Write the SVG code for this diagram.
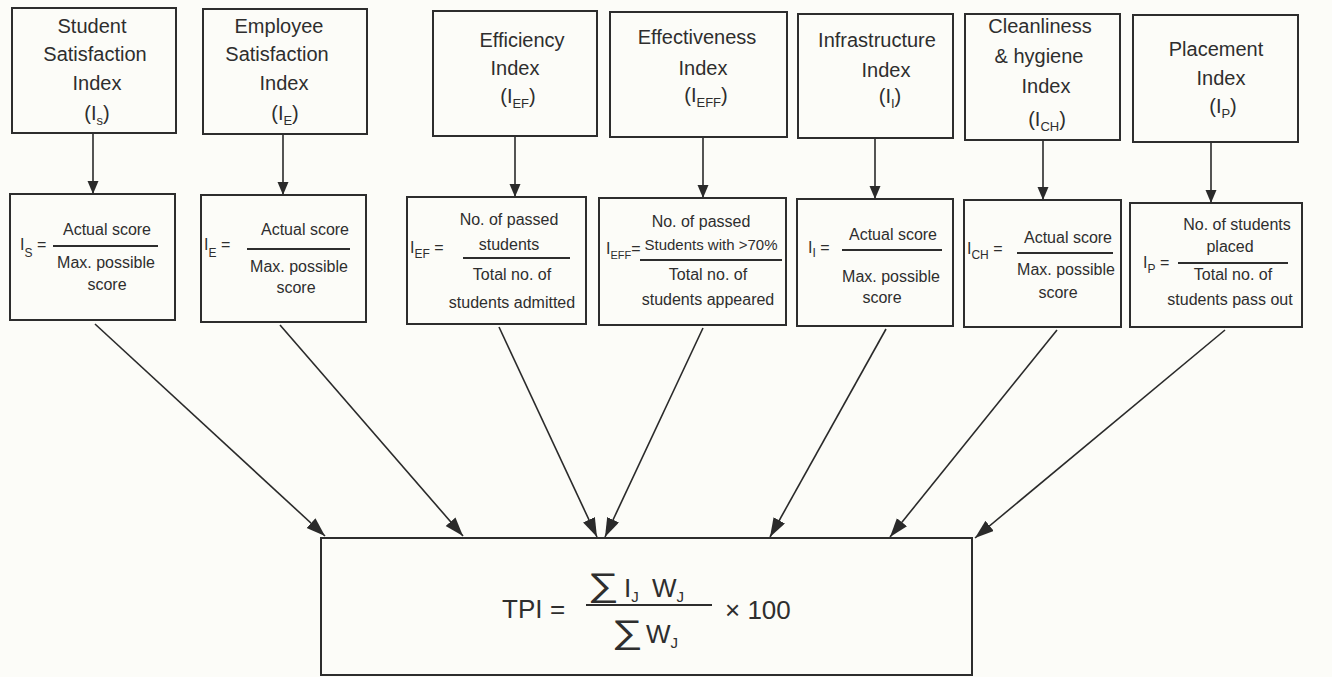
<svg xmlns="http://www.w3.org/2000/svg" width="1332" height="677" viewBox="0 0 1332 677">
<style>
.box{fill:none;stroke:#2d2d2d;stroke-width:2}
.t{font-family:"Liberation Sans",Arial,sans-serif;font-size:20px;fill:#2e2e2e;text-anchor:middle}
.f{font-family:"Liberation Sans",Arial,sans-serif;font-size:16px;fill:#2e2e2e;text-anchor:middle}
.fl{font-family:"Liberation Sans",Arial,sans-serif;font-size:16px;fill:#2e2e2e}
.s13{font-size:13px}
.s12{font-size:12px}
.s11{font-size:11px}
.s15{font-size:15px}
.bar{stroke:#2d2d2d;stroke-width:2}
.con{stroke:#2a2a2a;stroke-width:1.6;fill:none}
.v{marker-end:url(#ah)}
.d{marker-end:url(#ahd)}
.big{font-family:"Liberation Sans",Arial,sans-serif;font-size:26px;fill:#2e2e2e}
.sig{font-family:"Liberation Sans","DejaVu Sans",sans-serif;font-size:30px;fill:#2e2e2e}
</style>
<defs>
<marker id="ah" markerUnits="userSpaceOnUse" markerWidth="14" markerHeight="12" refX="13" refY="5.5" orient="auto">
<path d="M0,0 L13,5.5 L0,11 z" fill="#2a2a2a"/>
</marker>
<marker id="ahd" markerUnits="userSpaceOnUse" markerWidth="20" markerHeight="14" refX="19" refY="6.5" orient="auto">
<path d="M0,0 L19,6.5 L0,13 z" fill="#2a2a2a"/>
</marker>
</defs>
<rect x="0" y="0" width="1332" height="677" fill="#fcfcf8"/>

<g id="connectors">
<line class="con v" x1="93" y1="133" x2="93" y2="194"/>
<line class="con v" x1="283" y1="134" x2="283" y2="195"/>
<line class="con v" x1="515" y1="136" x2="515" y2="197"/>
<line class="con v" x1="703" y1="137" x2="703" y2="198"/>
<line class="con v" x1="875" y1="138" x2="875" y2="199"/>
<line class="con v" x1="1043" y1="140" x2="1043" y2="200"/>
<line class="con v" x1="1211" y1="142" x2="1211" y2="203"/>
<line class="con d" x1="95" y1="324" x2="325" y2="536"/>
<line class="con d" x1="280" y1="325" x2="463" y2="536"/>
<line class="con d" x1="499" y1="327" x2="597" y2="537"/>
<line class="con d" x1="703" y1="328" x2="605" y2="537"/>
<line class="con d" x1="886" y1="329" x2="770" y2="537"/>
<line class="con d" x1="1057" y1="330" x2="890" y2="537"/>
<line class="con d" x1="1225" y1="330" x2="975" y2="538"/>
</g>

<g id="top-student">
<rect class="box" x="12" y="8" width="164" height="125"/>
<text class="t" x="92" y="33">Student</text>
<text class="t" x="95" y="61">Satisfaction</text>
<text class="t" x="97" y="90">Index</text>
<text class="t" x="97" y="120">(I<tspan class="s13" dy="5">s</tspan><tspan dy="-5">)</tspan></text>
</g>
<g id="top-employee">
<rect class="box" x="203" y="9" width="164" height="125"/>
<text class="t" x="279" y="33">Employee</text>
<text class="t" x="277" y="61">Satisfaction</text>
<text class="t" x="284" y="90">Index</text>
<text class="t" x="285" y="120">(I<tspan class="s13" dy="5">E</tspan><tspan dy="-5">)</tspan></text>
</g>
<g id="top-efficiency">
<rect class="box" x="433" y="11" width="164" height="125"/>
<text class="t" x="522" y="47">Efficiency</text>
<text class="t" x="515" y="75">Index</text>
<text class="t" x="518" y="103">(I<tspan class="s13" dy="5">EF</tspan><tspan dy="-5">)</tspan></text>
</g>
<g id="top-effectiveness">
<rect class="box" x="610" y="12" width="177" height="125"/>
<text class="t" x="697" y="44">Effectiveness</text>
<text class="t" x="703" y="75">Index</text>
<text class="t" x="706" y="102">(I<tspan class="s13" dy="5">EFF</tspan><tspan dy="-5">)</tspan></text>
</g>
<g id="top-infrastructure">
<rect class="box" x="798" y="14" width="155" height="124"/>
<text class="t" x="877" y="47">Infrastructure</text>
<text class="t" x="886" y="77">Index</text>
<text class="t" x="890" y="103">(I<tspan class="s13" dy="5">I</tspan><tspan dy="-5">)</tspan></text>
</g>
<g id="top-cleanliness">
<rect class="box" x="965" y="14" width="155" height="126"/>
<text class="t" x="1040" y="33">Cleanliness</text>
<text class="t" x="1039" y="63">&amp; hygiene</text>
<text class="t" x="1046" y="93">Index</text>
<text class="t" x="1047" y="126">(I<tspan class="s13" dy="5">CH</tspan><tspan dy="-5">)</tspan></text>
</g>
<g id="top-placement">
<rect class="box" x="1133" y="15" width="165" height="127"/>
<text class="t" x="1216" y="56">Placement</text>
<text class="t" x="1221" y="85">Index</text>
<text class="t" x="1223" y="113">(I<tspan class="s13" dy="5">P</tspan><tspan dy="-5">)</tspan></text>
</g>

<g id="formula-student">
<rect class="box" x="10" y="194" width="165" height="126"/>
<text class="fl" x="20" y="250">I<tspan class="s12" dy="7">S</tspan><tspan dy="-7"> =</tspan></text>
<line class="bar" x1="53" y1="246" x2="158" y2="246"/>
<text class="f" x="107" y="235">Actual score</text>
<text class="f" x="106" y="268">Max. possible</text>
<text class="f" x="107" y="290">score</text>
</g>
<g id="formula-employee">
<rect class="box" x="201" y="195" width="165" height="127"/>
<text class="fl" x="204" y="250">I<tspan class="s12" dy="7">E</tspan><tspan dy="-7"> =</tspan></text>
<line class="bar" x1="247" y1="249" x2="350" y2="249"/>
<text class="f" x="305" y="235">Actual score</text>
<text class="f" x="299" y="272">Max. possible</text>
<text class="f" x="296" y="293">score</text>
</g>
<g id="formula-efficiency">
<rect class="box" x="407" y="197" width="179" height="127"/>
<text class="fl" x="410" y="253">I<tspan class="s12" dy="5">EF</tspan><tspan dy="-5"> =</tspan></text>
<line class="bar" x1="463" y1="258" x2="570" y2="258"/>
<text class="f" x="509" y="225">No. of passed</text>
<text class="f" x="509" y="250">students</text>
<text class="f" x="512" y="280">Total no. of</text>
<text class="f" x="512" y="308">students admitted</text>
</g>
<g id="formula-effectiveness">
<rect class="box" x="599" y="198" width="187" height="127"/>
<text class="fl" x="606" y="254">I<tspan class="s11" dy="5">EFF</tspan><tspan dy="-5">=</tspan></text>
<line class="bar" x1="640" y1="260" x2="782" y2="260"/>
<text class="f" x="701" y="227">No. of passed</text>
<text class="f s15" x="711" y="250">Students with &gt;70%</text>
<text class="f" x="708" y="280">Total no. of</text>
<text class="f" x="708" y="305">students appeared</text>
</g>
<g id="formula-infrastructure">
<rect class="box" x="797" y="199" width="156" height="127"/>
<text class="fl" x="808" y="253">I<tspan class="s12" dy="4">I</tspan><tspan dy="-4"> =</tspan></text>
<line class="bar" x1="842" y1="250" x2="942" y2="250"/>
<text class="f" x="893" y="240">Actual score</text>
<text class="f" x="891" y="282">Max. possible</text>
<text class="f" x="882" y="303">score</text>
</g>
<g id="formula-cleanliness">
<rect class="box" x="964" y="200" width="157" height="127"/>
<text class="fl" x="967" y="254">I<tspan class="s12" dy="5">CH</tspan><tspan dy="-5"> =</tspan></text>
<line class="bar" x1="1017" y1="253" x2="1113" y2="253"/>
<text class="f" x="1068" y="243">Actual score</text>
<text class="f" x="1066" y="275">Max. possible</text>
<text class="f" x="1058" y="298">score</text>
</g>
<g id="formula-placement">
<rect class="box" x="1130" y="203" width="172" height="124"/>
<text class="fl" x="1143" y="268">I<tspan class="s12" dy="5">P</tspan><tspan dy="-5"> =</tspan></text>
<line class="bar" x1="1178" y1="263" x2="1288" y2="263"/>
<text class="f" x="1237" y="230">No. of students</text>
<text class="f" x="1230" y="252">placed</text>
<text class="f" x="1233" y="280">Total no. of</text>
<text class="f" x="1230" y="305">students pass out</text>
</g>

<g id="tpi">
<rect class="box" x="321" y="538" width="651" height="137"/>
<text class="big" x="502" y="618">TPI</text>
<text class="big" x="550" y="618">=</text>
<text class="sig" transform="translate(588,596) scale(1.45,1.1)">∑</text>
<text class="big" x="624" y="597">I<tspan class="s15" dy="5">J</tspan></text>
<text class="big" x="652" y="597">W<tspan class="s15" dy="5">J</tspan></text>
<line class="bar" x1="586" y1="605" x2="712" y2="605"/>
<text class="sig" transform="translate(612,643) scale(1.45,1.1)">∑</text>
<text class="big" x="646" y="643">W<tspan class="s15" dy="5">J</tspan></text>
<text class="big" x="725" y="619">× 100</text>
</g>
</svg>
